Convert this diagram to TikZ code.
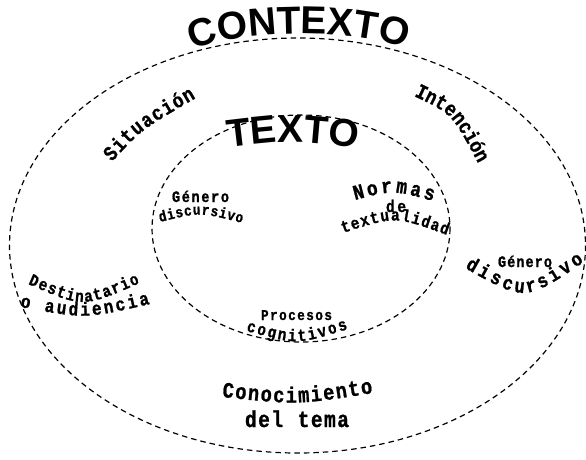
\documentclass[tikz,border=0pt]{standalone}
\usepackage{fontspec}
\usetikzlibrary{decorations.text}
\newfontfamily\cour{Liberation Mono}[FakeStretch=0.85, BoldFeatures={FakeBold=1.0}]
\newfontfamily\arialf{Liberation Sans}
\tikzset{
  ring/.style={draw=black, line width=1.2pt, dash pattern=on 5.5pt off 4pt},
  curvedlabel/.style 2 args={decorate, decoration={text along path, text align=fit to path,
      text={|\cour\bfseries\fontsize{#1}{#1}\selectfont|#2}}},
  bigtitle/.style={decorate, decoration={text along path, text align=center,
      text={|\arialf\bfseries\fontsize{39}{39}\selectfont|#1}}}
}
\begin{document}
\begin{tikzpicture}[x=1pt,y=-1pt]
\useasboundingbox (0,0) rectangle (586,459);
\fill[white] (0,0) rectangle (586,459);
\coordinate (outerc) at (297.5,245.5);
\coordinate (innerc) at (301,228.5);
\draw[ring] (outerc) ellipse [x radius=288, y radius=207.5];
\draw[ring] (innerc) ellipse [x radius=149, y radius=113.5];
% titles
\path[bigtitle={CONTEXTO}] (188,53) .. controls (228,28) and (368,27) .. (410,51);
\path[bigtitle={TEXTO}] (226,148) .. controls (293,140) .. (360,148);
% outer labels
\path[curvedlabel={21}{Situación}] (112,162) .. controls (141,130) .. (196,98);
\path[curvedlabel={21}{Intención}] (414,96) .. controls (452,114) .. (478,163);
\path[curvedlabel={17}{Destinatario}] (28,284) .. controls (83,308) .. (140,283);
\path[curvedlabel={19}{o audiencia}] (20,307) .. controls (85,319) .. (150,304);
\path[curvedlabel={16}{Género}] (498,267) -- (552,267);
\path[curvedlabel={20}{discursivo}] (465,268) .. controls (525,302) .. (584,262);
\path[curvedlabel={22}{Conocimiento}] (222,397) .. controls (297,405) .. (373,393);
\path[curvedlabel={23}{del tema}] (245,427) -- (349,427);
% inner labels
\path[curvedlabel={16}{Género}] (172,202) -- (229,202);
\path[curvedlabel={15}{discursivo}] (160,222) .. controls (200,212) .. (242,223);
\path[curvedlabel={21}{Normas}] (355,200) .. controls (393,190) .. (433,201);
\path[curvedlabel={17}{de}] (386,212) -- (406,212);
\path[curvedlabel={17}{textualidad}] (343,233) .. controls (395,216) .. (447,235);
\path[curvedlabel={15}{Procesos}] (261,320) -- (332,320);
\path[curvedlabel={17}{cognitivos}] (246,331) .. controls (297,345) .. (348,329);
\end{tikzpicture}
\end{document}
